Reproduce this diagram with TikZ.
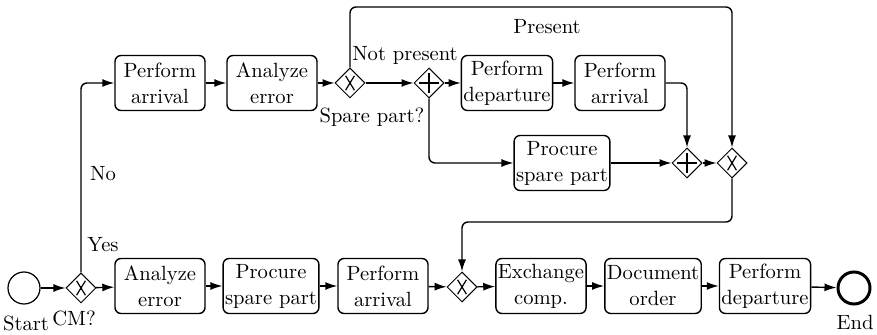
\documentclass[tikz,border=0pt]{standalone}
\usepackage{tikz}
\usetikzlibrary{arrows.meta,shapes.geometric,positioning}

\tikzset{
  task/.style={draw, rounded corners=3pt, minimum width=45pt, minimum height=27.5pt,
    inner sep=1pt, align=center, line width=0.7pt},
  gate/.style={draw, diamond, minimum width=15pt, minimum height=15pt, inner sep=0pt, line width=0.5pt},
  xorgate/.style={gate, path picture={
      \draw[line width=0.6pt] ([shift={(-2.2pt,-3.6pt)}]path picture bounding box.center) -- ([shift={(2.2pt,3.6pt)}]path picture bounding box.center);
      \draw[line width=0.6pt] ([shift={(-2.2pt,3.6pt)}]path picture bounding box.center) -- ([shift={(2.2pt,-3.6pt)}]path picture bounding box.center);}},
  andgate/.style={gate, path picture={
      \draw[line width=0.6pt] ([shift={(-5pt,0pt)}]path picture bounding box.center) -- ([shift={(5pt,0pt)}]path picture bounding box.center);
      \draw[line width=0.6pt] ([shift={(0pt,-5pt)}]path picture bounding box.center) -- ([shift={(0pt,5pt)}]path picture bounding box.center);}},
  event/.style={draw, circle, minimum size=16pt, inner sep=0pt, line width=0.6pt},
  flow/.style={-{Latex[length=6pt,width=4pt]}, line width=0.7pt, rounded corners=3pt},
  lbl/.style={inner sep=0pt}
}

\begin{document}
\begin{tikzpicture}[x=0.5pt,y=-0.5pt,font=\fontsize{10.3}{13}\selectfont]
  \useasboundingbox (0,0) rectangle (877,335);
  % Bottom row
  \node[event] (start) at (24,288) {};
  \node[xorgate] (cm) at (81,288) {};
  \node[task] (ae1) at (160,286) {Analyze\\error};
  \node[task] (psp1) at (271,286) {Procure\\spare part};
  \node[task] (pa3) at (383,286) {Perform\\arrival};
  \node[xorgate] (xm) at (462,287) {};
  \node[task] (ex) at (541,286) {Exchange\\comp.};
  \node[task] (doc) at (653,286) {Document\\order};
  \node[task] (pdep) at (765,286) {Perform\\departure};
  \node[event, line width=1.5pt] (end) at (854,288) {};
  % Top row
  \node[task] (pa1) at (160,83) {Perform\\arrival};
  \node[task] (ae2) at (272,83) {Analyze\\error};
  \node[xorgate] (xs) at (350,83) {};
  \node[andgate] (ps) at (429,83) {};
  \node[task] (pd) at (507,83) {Perform\\departure};
  \node[task] (pa2) at (620,83) {Perform\\arrival};
  \node[task] (psp2) at (562,163) {Procure\\spare part};
  \node[andgate] (pj) at (687,163) {};
  \node[xorgate] (xj) at (732,163) {};
  % Labels
  \node[lbl] (lstart) at (26,323) {Start};
  \node[lbl] (lcm) at (74,318) {CM?};
  \node[lbl] (lyes) at (103,245) {Yes};
  \node[lbl] (lno) at (103,174) {No};
  \node[lbl] (lnp) at (405,55) {Not present};
  \node[lbl] (lsp) at (372,117) {Spare part?};
  \node[lbl] (lpr) at (547,27) {Present};
  \node[lbl] (lend) at (855,322) {End};
  % Helper points
  \coordinate (topc) at (732,7);
  \coordinate (backc) at (732,222);
  % Flows
  \draw[flow] (start) -- (cm);
  \draw[flow] (cm) -- (ae1);
  \draw[flow] (ae1) -- (psp1);
  \draw[flow] (psp1) -- (pa3);
  \draw[flow] (pa3) -- (xm);
  \draw[flow] (xm) -- (ex);
  \draw[flow] (ex) -- (doc);
  \draw[flow] (doc) -- (pdep);
  \draw[flow] (pdep) -- (end);
  \draw[flow] (cm.north) |- (pa1.west);
  \draw[flow] (pa1) -- (ae2);
  \draw[flow] (ae2) -- (xs);
  \draw[flow] (xs) -- (ps);
  \draw[flow] (ps) -- (pd);
  \draw[flow] (pd) -- (pa2);
  \draw[flow] (pa2.east) -| (pj.north);
  \draw[flow] (ps.south) |- (psp2.west);
  \draw[flow] (psp2) -- (pj);
  \draw[flow] (pj) -- (xj);
  \draw[flow] (xs.north) |- (topc) -- (xj.north);
  \draw[flow] (xj.south) -- (backc) -| (xm.north);
\end{tikzpicture}
\end{document}
